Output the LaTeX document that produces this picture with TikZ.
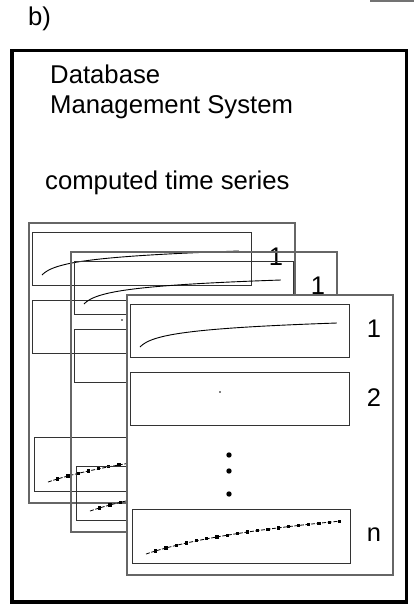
\documentclass[tikz,border=0pt]{standalone}
\usepackage{fontspec}
\setmainfont{Liberation Sans}
\newcommand\tspanel[3]{%
\begin{scope}[shift={#2}]
  \draw[panelbox, fill=#3] (127,295) rectangle (393,575);
  \draw[seriesbox] (130,304) rectangle (349,357);
  \draw[seriesbox] (130,372) rectangle (349,425);
  \draw[seriesbox] (132,509) rectangle (350,563);
  \node[lbl] (#1-one) at (374,329) {1};
  \node[lbl] (#1-two) at (374,398) {2};
  \node[lbl] (#1-n) at (374,535) {n};
  \fill (229,455) circle (2.7) (229,471) circle (2.7) (229,494) circle (2.7);
  \draw[curve] plot[domain=0:1,samples=80,smooth] ({140+197*\x},{347-24*ln(1+30*\x)/ln(31)});
  \fill (220,392) circle (0.8);
  \draw[dcurve] plot[domain=0:1,samples=40,smooth] ({146+195*\x},{554-33*ln(1+2.5*\x)/ln(3.5)});
  \foreach \i in {0,...,18}{%
    \pgfmathsetmacro\mx{155.7+10.2*\i}%
    \pgfmathsetmacro\mt{(\mx-146)/195}%
    \pgfmathsetmacro\my{554-33*ln(1+2.5*\mt)/ln(3.5)}%
    \fill (\mx,\my) +(-1.6,-1.6) rectangle +(1.6,1.6);
  }
\end{scope}}
\begin{document}
\begin{tikzpicture}[x=1pt,y=-1pt,
  panelbox/.style={draw=black!60, line width=1.3pt},
  seriesbox/.style={draw=black!80, line width=1pt},
  lbl/.style={inner sep=0pt, font=\fontsize{25.5}{30}\selectfont},
  txt/.style={inner sep=0pt, anchor=base west, font=\fontsize{25.7}{30}\selectfont},
  curve/.style={black, line width=0.9pt},
  dcurve/.style={black, line width=0.8pt, dash pattern=on 4pt off 1.6pt}]
  \useasboundingbox (0,0) rectangle (414,605);
  \draw[black!55, line width=2pt] (370,1) -- (414,1);
  \node[txt] (lab) at (28,25) {b)};
  \draw[line width=3.6pt] (12,50.5) rectangle (406.5,602);
  \node[txt] (t1) at (50,83) {Database};
  \node[txt] (t2) at (50,113) {Management System};
  \node[txt] (t3) at (45,189) {computed time series};
  \tspanel{pa}{(-98,-72)}{none}
  \tspanel{pb}{(-56,-43)}{none}
  \tspanel{pc}{(0,0)}{white}
\end{tikzpicture}
\end{document}
